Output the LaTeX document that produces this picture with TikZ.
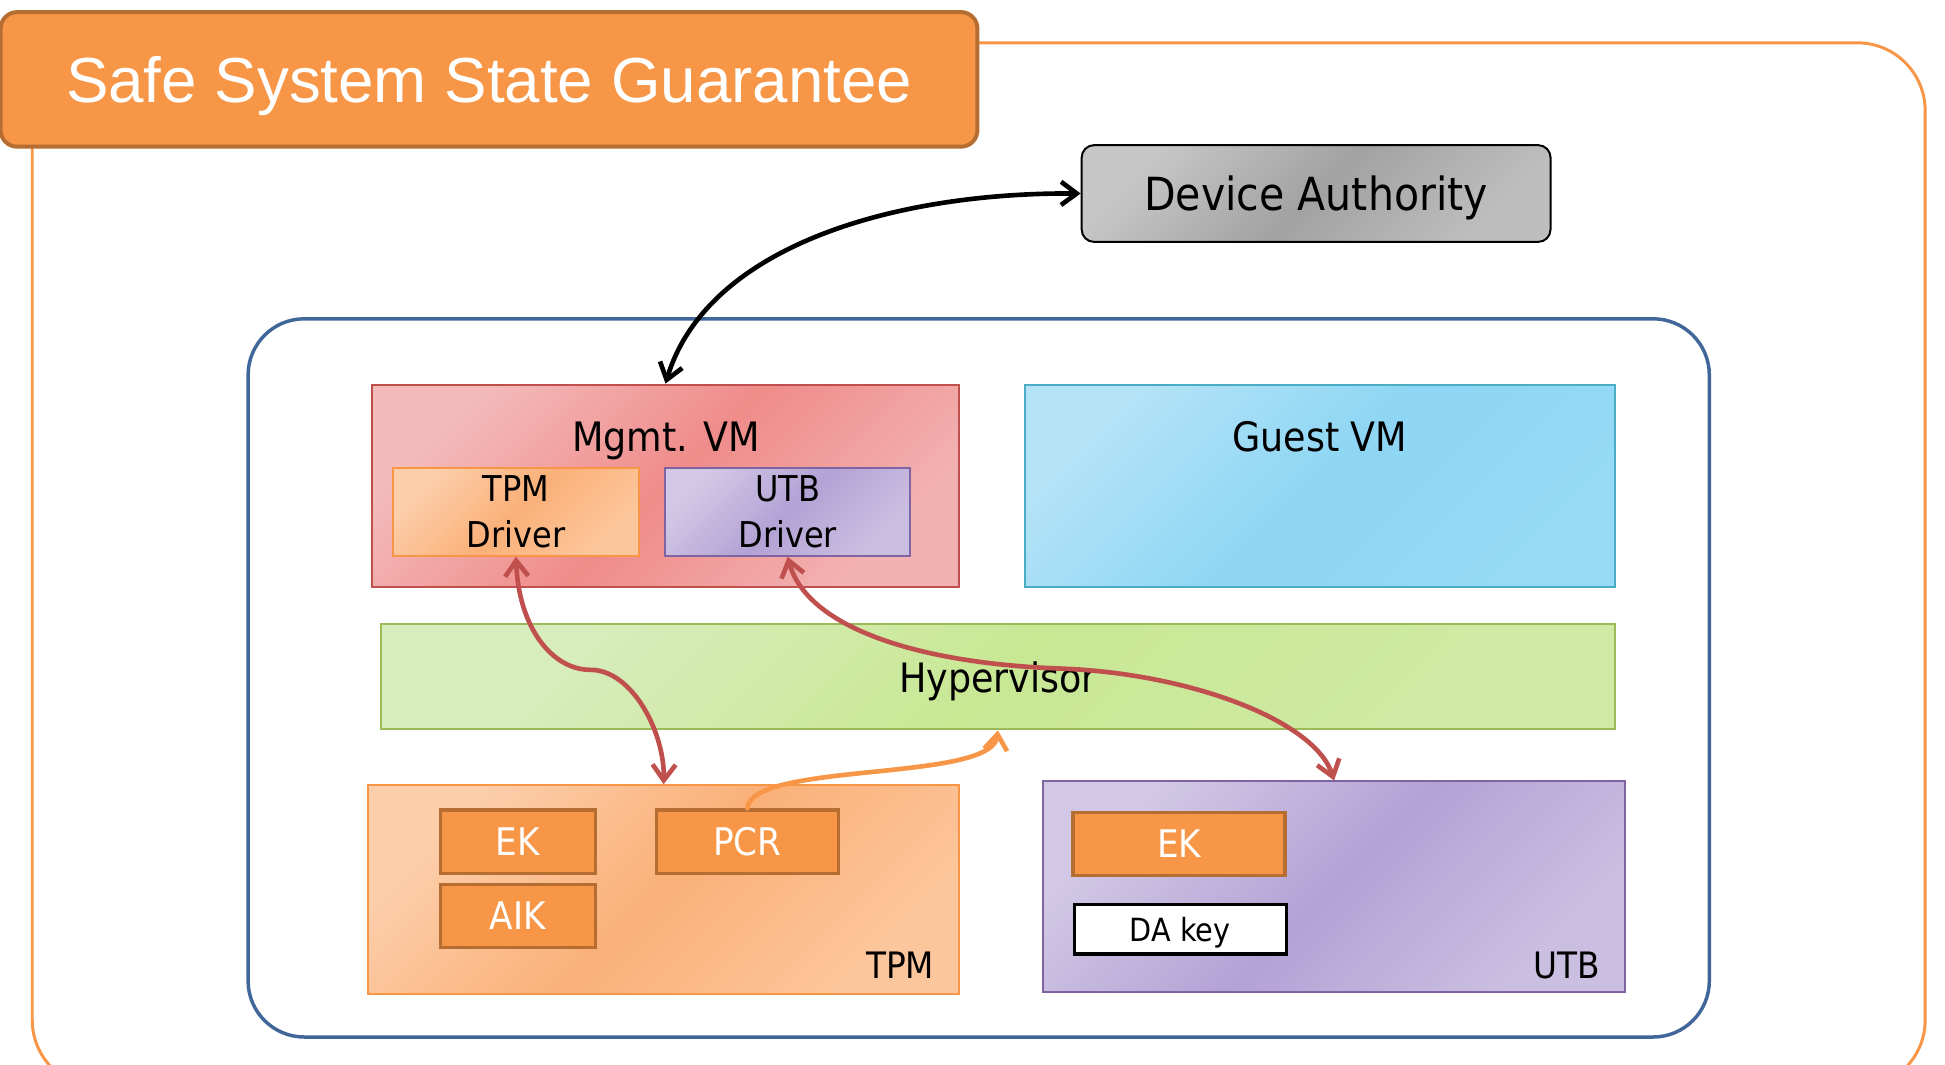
\documentclass[tikz,border=0pt]{standalone}
\usepackage{fontspec}
\setmainfont{DejaVu Sans}[FakeStretch=0.9]
\newfontfamily\headfont{Liberation Sans}
\usetikzlibrary{arrows.meta}

\definecolor{accent}{RGB}{247,150,70}
\definecolor{accentdk}{RGB}{182,109,49}
\definecolor{frameblue}{RGB}{65,103,154}
\definecolor{vmred}{RGB}{192,80,77}
\definecolor{utbpurple}{RGB}{128,100,162}
\definecolor{guestblue}{RGB}{75,172,198}
\definecolor{hvgreen}{RGB}{155,187,89}
% gradient stops: light corner, middle, far corner
\definecolor{daA}{RGB}{198,198,198}\definecolor{daB}{RGB}{162,162,162}\definecolor{daC}{RGB}{190,190,190}
\definecolor{vmA}{RGB}{243,186,186}\definecolor{vmB}{RGB}{239,140,138}\definecolor{vmC}{RGB}{242,178,178}
\definecolor{orA}{RGB}{252,206,170}\definecolor{orB}{RGB}{250,176,120}\definecolor{orC}{RGB}{252,198,156}
\definecolor{puA}{RGB}{210,200,229}\definecolor{puB}{RGB}{179,162,213}\definecolor{puC}{RGB}{203,191,225}
\definecolor{guA}{RGB}{180,227,246}\definecolor{guB}{RGB}{142,214,244}\definecolor{guC}{RGB}{150,218,245}
\definecolor{hvA}{RGB}{216,237,190}\definecolor{hvB}{RGB}{200,232,148}\definecolor{hvC}{RGB}{207,234,165}

\tikzset{every picture/.style={line width=0.75pt}}
\tikzset{
  shade3/.style n args={3}{left color=#1, right color=#3, middle color=#2, shading angle=45},
  box/.style={draw, rectangle, inner sep=0pt, line width=1.2pt},
  keybox/.style={box, fill=accent, draw=accentdk, line width=2pt, text=white, font=\fontsize{23pt}{27pt}\selectfont},
  drvtext/.style={align=center, font=\fontsize{21.5pt}{27.5pt}\selectfont},
  vmtext/.style={font=\fontsize{24.5pt}{29pt}\selectfont},
  link/.style={line width=2.8pt, line cap=round, >={Straight Barb[length=9.5pt,width=14pt]}}
}

\begin{document}
\begin{tikzpicture}[x=0.75pt,y=0.75pt,yscale=-1,xscale=1]
	%diagram size
	\useasboundingbox (0,0) rectangle (1568,858);
	\clip (0,0) rectangle (1568,858);

	%Shape: Rounded Rect [outer frame]
	\draw [color=accent, line width=1.8pt, rounded corners=41pt] (26,34.5) rectangle (1552,877);
	%Shape: Rounded Rect [title]
	\node [box, fill=accent, draw=accentdk, line width=2.4pt, rounded corners=10pt, text=white, text depth=0pt, font=\headfont\fontsize{38.5pt}{45pt}\selectfont, minimum width=590.6pt, minimum height=81.4pt] (title) at (394.25,64) {Safe System State Guarantee};
	%Shape: Rounded Rect [device authority]
	\node [box, draw=black, shade3={daA}{daB}{daC}, rounded corners=7.5pt, text depth=0pt, font=\fontsize{27.6pt}{33pt}\selectfont, minimum width=283.5pt, minimum height=58.5pt] (da) at (1061,156) {Device Authority};

	%Shape: Rounded Rect [platform]
	\node [box, draw=frameblue, line width=2.1pt, rounded corners=34pt, minimum width=883.5pt, minimum height=434.25pt] (host) at (789,546.5) {};

	%Shape: Rectangle [mgmt vm]
	\node [box, draw=vmred, shade3={vmA}{vmB}{vmC}, minimum width=354.75pt, minimum height=122.25pt] (mgmt) at (536.5,391.5) {};
	\node [vmtext, anchor=base] (mgmtlbl) at (537,364) {Mgmt. VM};
	\node [box, draw=accent, shade3={orA}{orB}{orC}, drvtext, minimum width=148.5pt, minimum height=53.25pt] (tpmdrv) at (416,412.5) {TPM\\Driver};
	\node [box, draw=utbpurple, shade3={puA}{puB}{puC}, drvtext, minimum width=148.5pt, minimum height=53.25pt] (utbdrv) at (635,412.5) {UTB\\Driver};

	%Shape: Rectangle [guest vm]
	\node [box, draw=guestblue, shade3={guA}{guB}{guC}, minimum width=357pt, minimum height=122.25pt] (guest) at (1064,391.5) {};
	\node [vmtext, anchor=base] (guestlbl) at (1064,364) {Guest VM};

	%Shape: Rectangle [hypervisor]
	\node [box, draw=hvgreen, shade3={hvA}{hvB}{hvC}, vmtext, text depth=0pt, minimum width=746.25pt, minimum height=63.75pt] (hyper) at (804.5,545.5) {Hypervisor};

	%Shape: Rectangle [tpm]
	\node [box, draw=accent, shade3={orA}{orB}{orC}, minimum width=357pt, minimum height=126pt] (tpm) at (535,717) {};
	\node [keybox, minimum width=93.75pt, minimum height=38.25pt] (tpmek) at (417.5,678.5) {EK};
	\node [keybox, minimum width=93.75pt, minimum height=38.25pt] (aik) at (417.5,738.5) {AIK};
	\node [keybox, minimum width=110.25pt, minimum height=38.25pt] (pcr) at (602.5,678.5) {PCR};
	\node [font=\fontsize{22pt}{26pt}\selectfont, anchor=base east] (tpmlbl) at (758,789) {TPM};

	%Shape: Rectangle [utb]
	\node [box, draw=utbpurple, shade3={puA}{puB}{puC}, minimum width=351.75pt, minimum height=127.5pt] (utb) at (1075.5,715) {};
	\node [keybox, minimum width=128.25pt, minimum height=38.25pt] (utbek) at (950.5,680.5) {EK};
	\node [box, fill=white, draw=black, line width=2pt, text depth=0pt, font=\fontsize{19.3pt}{23pt}\selectfont, minimum width=128.25pt, minimum height=30pt] (dakey) at (951.5,749) {DA key};
	\node [font=\fontsize{22pt}{26pt}\selectfont, anchor=base east] (utblbl) at (1295,789) {UTB};

	%Curve Lines [management link]
	\draw [link, <->, color=black] (mgmt.north) .. controls +(33,-110) and +(-152,-1) .. (da.west) ;
	%Curve Lines [driver links]
	\draw [link, <->, color=vmred] (tpmdrv.south) .. controls +(2,57) and +(-31,0) .. (476,540) .. controls +(34,0) and +(1,-41) .. (tpm.north) ;
	\draw [link, <->, color=vmred] (utbdrv.south) .. controls +(15,57) and +(-116,-4) .. (856,539) .. controls +(104,4) and +(-15,-48) .. (utb.north) ;
	%Curve Lines [measurement]
	\draw [link, ->, color=accent] (pcr.north) .. controls +(3,-38) and +(-5,42) .. (hyper.south) ;

\end{tikzpicture}
\end{document}
